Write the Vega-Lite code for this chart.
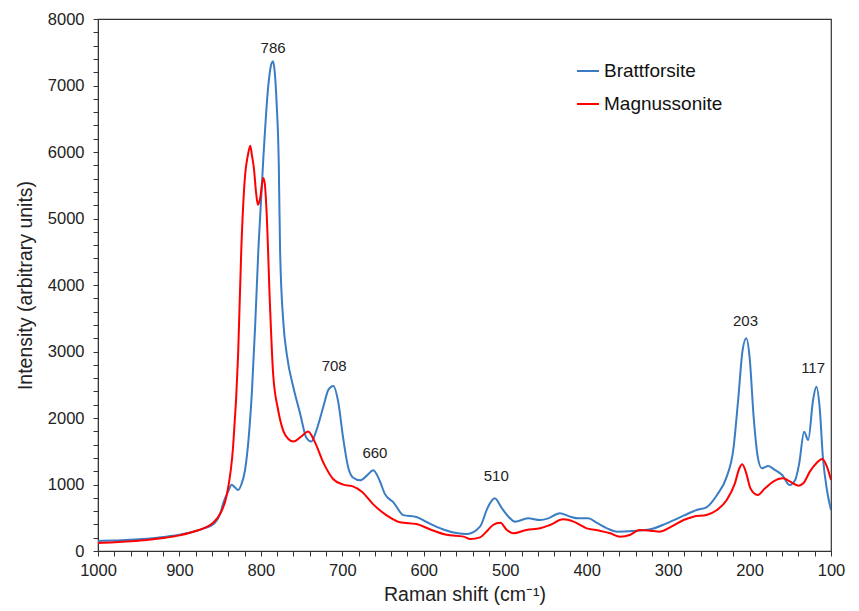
{
  "$schema": "https://vega.github.io/schema/vega-lite/v6.json",
  "autosize": {"type": "none"},
  "padding": {"left": 98, "top": 19, "right": 28, "bottom": 60},
  "width": 733,
  "height": 532,
  "config": {
    "font": "Liberation Sans",
    "view": {"stroke": "#333", "strokeWidth": 1.2},
    "axis": {"grid": false, "domainColor": "#333", "tickColor": "#333", "labelColor": "#222", "titleColor": "#222", "labelFontSize": 16.5, "titleFontSize": 19.5, "titleFontWeight": "normal", "tickSize": 5, "labelOverlap": false, "labelBound": false, "labelFlush": false}
  },
  "layer": [
    {
      "data": {"values": [
        {"x":1000,"y":150,"s":"Brattforsite"},{"x":980,"y":158,"s":"Brattforsite"},{"x":960,"y":168,"s":"Brattforsite"},{"x":940,"y":185,"s":"Brattforsite"},{"x":920,"y":210,"s":"Brattforsite"},{"x":900,"y":243,"s":"Brattforsite"},{"x":880,"y":300,"s":"Brattforsite"},{"x":870,"y":340,"s":"Brattforsite"},{"x":858,"y":405,"s":"Brattforsite"},{"x":850,"y":560,"s":"Brattforsite"},{"x":846,"y":728,"s":"Brattforsite"},{"x":840,"y":900,"s":"Brattforsite"},{"x":836,"y":998,"s":"Brattforsite"},{"x":832,"y":960,"s":"Brattforsite"},{"x":828,"y":917,"s":"Brattforsite"},{"x":824,"y":1000,"s":"Brattforsite"},{"x":819.5,"y":1214,"s":"Brattforsite"},{"x":815,"y":1700,"s":"Brattforsite"},{"x":811,"y":2400,"s":"Brattforsite"},{"x":807,"y":3400,"s":"Brattforsite"},{"x":803,"y":4558,"s":"Brattforsite"},{"x":797,"y":5906,"s":"Brattforsite"},{"x":791,"y":6985,"s":"Brattforsite"},{"x":787,"y":7330,"s":"Brattforsite"},{"x":785,"y":7363,"s":"Brattforsite"},{"x":783,"y":7200,"s":"Brattforsite"},{"x":780.6,"y":6716,"s":"Brattforsite"},{"x":778,"y":5800,"s":"Brattforsite"},{"x":776.5,"y":4558,"s":"Brattforsite"},{"x":772.5,"y":3450,"s":"Brattforsite"},{"x":768,"y":2940,"s":"Brattforsite"},{"x":760,"y":2454,"s":"Brattforsite"},{"x":752,"y":2077,"s":"Brattforsite"},{"x":744,"y":1699,"s":"Brattforsite"},{"x":738,"y":1645,"s":"Brattforsite"},{"x":732,"y":1807,"s":"Brattforsite"},{"x":723,"y":2185,"s":"Brattforsite"},{"x":717,"y":2427,"s":"Brattforsite"},{"x":711,"y":2481,"s":"Brattforsite"},{"x":705,"y":2238,"s":"Brattforsite"},{"x":699,"y":1699,"s":"Brattforsite"},{"x":693,"y":1268,"s":"Brattforsite"},{"x":687,"y":1106,"s":"Brattforsite"},{"x":678,"y":1063,"s":"Brattforsite"},{"x":670,"y":1133,"s":"Brattforsite"},{"x":662,"y":1214,"s":"Brattforsite"},{"x":654,"y":1052,"s":"Brattforsite"},{"x":648,"y":863,"s":"Brattforsite"},{"x":637,"y":728,"s":"Brattforsite"},{"x":625,"y":539,"s":"Brattforsite"},{"x":609,"y":512,"s":"Brattforsite"},{"x":596,"y":432,"s":"Brattforsite"},{"x":576,"y":324,"s":"Brattforsite"},{"x":560,"y":270,"s":"Brattforsite"},{"x":547,"y":255,"s":"Brattforsite"},{"x":531,"y":366,"s":"Brattforsite"},{"x":521,"y":667,"s":"Brattforsite"},{"x":513,"y":792,"s":"Brattforsite"},{"x":504,"y":642,"s":"Brattforsite"},{"x":496,"y":516,"s":"Brattforsite"},{"x":488,"y":441,"s":"Brattforsite"},{"x":472,"y":491,"s":"Brattforsite"},{"x":457,"y":466,"s":"Brattforsite"},{"x":447,"y":491,"s":"Brattforsite"},{"x":433,"y":567,"s":"Brattforsite"},{"x":420,"y":516,"s":"Brattforsite"},{"x":410,"y":491,"s":"Brattforsite"},{"x":398,"y":491,"s":"Brattforsite"},{"x":388,"y":426,"s":"Brattforsite"},{"x":375,"y":341,"s":"Brattforsite"},{"x":363,"y":291,"s":"Brattforsite"},{"x":343,"y":301,"s":"Brattforsite"},{"x":322,"y":326,"s":"Brattforsite"},{"x":302,"y":416,"s":"Brattforsite"},{"x":281,"y":531,"s":"Brattforsite"},{"x":265,"y":617,"s":"Brattforsite"},{"x":253,"y":657,"s":"Brattforsite"},{"x":240,"y":842,"s":"Brattforsite"},{"x":228,"y":1118,"s":"Brattforsite"},{"x":220,"y":1519,"s":"Brattforsite"},{"x":214,"y":2271,"s":"Brattforsite"},{"x":208.5,"y":3023,"s":"Brattforsite"},{"x":204,"y":3199,"s":"Brattforsite"},{"x":200,"y":2923,"s":"Brattforsite"},{"x":195,"y":2020,"s":"Brattforsite"},{"x":190,"y":1419,"s":"Brattforsite"},{"x":185,"y":1244,"s":"Brattforsite"},{"x":177,"y":1279,"s":"Brattforsite"},{"x":169,"y":1219,"s":"Brattforsite"},{"x":160,"y":1143,"s":"Brattforsite"},{"x":151,"y":993,"s":"Brattforsite"},{"x":144,"y":1068,"s":"Brattforsite"},{"x":139,"y":1319,"s":"Brattforsite"},{"x":133,"y":1795,"s":"Brattforsite"},{"x":128,"y":1669,"s":"Brattforsite"},{"x":122,"y":2271,"s":"Brattforsite"},{"x":118,"y":2471,"s":"Brattforsite"},{"x":114,"y":2171,"s":"Brattforsite"},{"x":110,"y":1419,"s":"Brattforsite"},{"x":105,"y":917,"s":"Brattforsite"},{"x":100,"y":617,"s":"Brattforsite"},
        {"x":1000,"y":120,"s":"Magnussonite"},{"x":980,"y":130,"s":"Magnussonite"},{"x":960,"y":145,"s":"Magnussonite"},{"x":940,"y":165,"s":"Magnussonite"},{"x":920,"y":195,"s":"Magnussonite"},{"x":900,"y":235,"s":"Magnussonite"},{"x":880,"y":300,"s":"Magnussonite"},{"x":858,"y":432,"s":"Magnussonite"},{"x":850,"y":560,"s":"Magnussonite"},{"x":842,"y":836,"s":"Magnussonite"},{"x":834,"y":1591,"s":"Magnussonite"},{"x":828,"y":2940,"s":"Magnussonite"},{"x":824,"y":4558,"s":"Magnussonite"},{"x":819.5,"y":5637,"s":"Magnussonite"},{"x":816,"y":5950,"s":"Magnussonite"},{"x":813,"y":6095,"s":"Magnussonite"},{"x":811,"y":5950,"s":"Magnussonite"},{"x":808.5,"y":5745,"s":"Magnussonite"},{"x":806,"y":5400,"s":"Magnussonite"},{"x":803.6,"y":5205,"s":"Magnussonite"},{"x":801,"y":5300,"s":"Magnussonite"},{"x":797,"y":5610,"s":"Magnussonite"},{"x":795,"y":5500,"s":"Magnussonite"},{"x":793,"y":5097,"s":"Magnussonite"},{"x":789,"y":3749,"s":"Magnussonite"},{"x":785,"y":2670,"s":"Magnussonite"},{"x":779,"y":2131,"s":"Magnussonite"},{"x":772.5,"y":1807,"s":"Magnussonite"},{"x":766,"y":1680,"s":"Magnussonite"},{"x":760,"y":1645,"s":"Magnussonite"},{"x":750,"y":1726,"s":"Magnussonite"},{"x":742,"y":1796,"s":"Magnussonite"},{"x":734,"y":1645,"s":"Magnussonite"},{"x":723,"y":1322,"s":"Magnussonite"},{"x":711,"y":1079,"s":"Magnussonite"},{"x":699,"y":998,"s":"Magnussonite"},{"x":687,"y":971,"s":"Magnussonite"},{"x":676,"y":890,"s":"Magnussonite"},{"x":662,"y":701,"s":"Magnussonite"},{"x":646,"y":539,"s":"Magnussonite"},{"x":629,"y":432,"s":"Magnussonite"},{"x":609,"y":405,"s":"Magnussonite"},{"x":592,"y":324,"s":"Magnussonite"},{"x":572,"y":243,"s":"Magnussonite"},{"x":551,"y":216,"s":"Magnussonite"},{"x":543,"y":180,"s":"Magnussonite"},{"x":531,"y":205,"s":"Magnussonite"},{"x":524,"y":280,"s":"Magnussonite"},{"x":515,"y":391,"s":"Magnussonite"},{"x":506,"y":426,"s":"Magnussonite"},{"x":498,"y":316,"s":"Magnussonite"},{"x":490,"y":266,"s":"Magnussonite"},{"x":474,"y":316,"s":"Magnussonite"},{"x":457,"y":341,"s":"Magnussonite"},{"x":445,"y":391,"s":"Magnussonite"},{"x":429,"y":476,"s":"Magnussonite"},{"x":416,"y":441,"s":"Magnussonite"},{"x":400,"y":341,"s":"Magnussonite"},{"x":384,"y":306,"s":"Magnussonite"},{"x":371,"y":266,"s":"Magnussonite"},{"x":359,"y":215,"s":"Magnussonite"},{"x":347,"y":241,"s":"Magnussonite"},{"x":335,"y":316,"s":"Magnussonite"},{"x":322,"y":306,"s":"Magnussonite"},{"x":310,"y":291,"s":"Magnussonite"},{"x":296,"y":366,"s":"Magnussonite"},{"x":281,"y":466,"s":"Magnussonite"},{"x":269,"y":516,"s":"Magnussonite"},{"x":253,"y":542,"s":"Magnussonite"},{"x":240,"y":617,"s":"Magnussonite"},{"x":228,"y":767,"s":"Magnussonite"},{"x":218,"y":1018,"s":"Magnussonite"},{"x":212.5,"y":1244,"s":"Magnussonite"},{"x":209,"y":1304,"s":"Magnussonite"},{"x":204,"y":1168,"s":"Magnussonite"},{"x":199,"y":943,"s":"Magnussonite"},{"x":190,"y":842,"s":"Magnussonite"},{"x":181,"y":943,"s":"Magnussonite"},{"x":171,"y":1043,"s":"Magnussonite"},{"x":159,"y":1093,"s":"Magnussonite"},{"x":150,"y":1043,"s":"Magnussonite"},{"x":140,"y":983,"s":"Magnussonite"},{"x":134,"y":1018,"s":"Magnussonite"},{"x":126,"y":1193,"s":"Magnussonite"},{"x":118,"y":1319,"s":"Magnussonite"},{"x":111,"y":1384,"s":"Magnussonite"},{"x":105,"y":1269,"s":"Magnussonite"},{"x":100,"y":1068,"s":"Magnussonite"}
      ]},
      "mark": {"type": "line", "strokeWidth": 2, "interpolate": "monotone", "clip": true},
      "encoding": {
        "x": {"field": "x", "type": "quantitative",
          "scale": {"domain": [1000, 100], "nice": false, "zero": false},
          "axis": {"title": "Raman shift (cm⁻¹)", "tickCount": 200, "values": [1000,980,960,940,920,900,880,860,840,820,800,780,760,740,720,700,680,660,640,620,600,580,560,540,520,500,480,460,440,420,400,380,360,340,320,300,280,260,240,220,200,180,160,140,120,100],
            "labelExpr": "datum.value % 100 === 0 ? datum.label : ''", "labelPadding": 6, "titlePadding": 7, "format": "d"}},
        "y": {"field": "y", "type": "quantitative",
          "scale": {"domain": [0, 8000], "nice": false},
          "axis": {"title": "Intensity (arbitrary units)", "tickCount": 200, "values": [0,200,400,600,800,1000,1200,1400,1600,1800,2000,2200,2400,2600,2800,3000,3200,3400,3600,3800,4000,4200,4400,4600,4800,5000,5200,5400,5600,5800,6000,6200,6400,6600,6800,7000,7200,7400,7600,7800,8000],
            "labelExpr": "datum.value % 1000 === 0 ? datum.label : ''", "format": "d", "labelPadding": 9, "titlePadding": 12}},
        "color": {"field": "s", "type": "nominal",
          "scale": {"domain": ["Brattforsite", "Magnussonite"], "range": ["#3b7dc4", "#ff0000"]},
          "legend": {"title": null, "orient": "none", "legendX": 478, "legendY": 40, "symbolType": "stroke", "symbolSize": 484, "symbolStrokeWidth": 2, "labelFontSize": 19, "labelColor": "#111", "rowPadding": 11, "labelOffset": 4}}
      }
    },
    {
      "data": {"values": [
        {"x": 785, "y": 7560, "t": "786"},
        {"x": 710, "y": 2780, "t": "708"},
        {"x": 660, "y": 1470, "t": "660"},
        {"x": 511, "y": 1125, "t": "510"},
        {"x": 205, "y": 3460, "t": "203"},
        {"x": 122, "y": 2750, "t": "117"}
      ]},
      "mark": {"type": "text", "fontSize": 15, "color": "#222", "baseline": "middle", "align": "center"},
      "encoding": {
        "x": {"field": "x", "type": "quantitative"},
        "y": {"field": "y", "type": "quantitative"},
        "text": {"field": "t", "type": "nominal"}
      }
    }
  ]
}
